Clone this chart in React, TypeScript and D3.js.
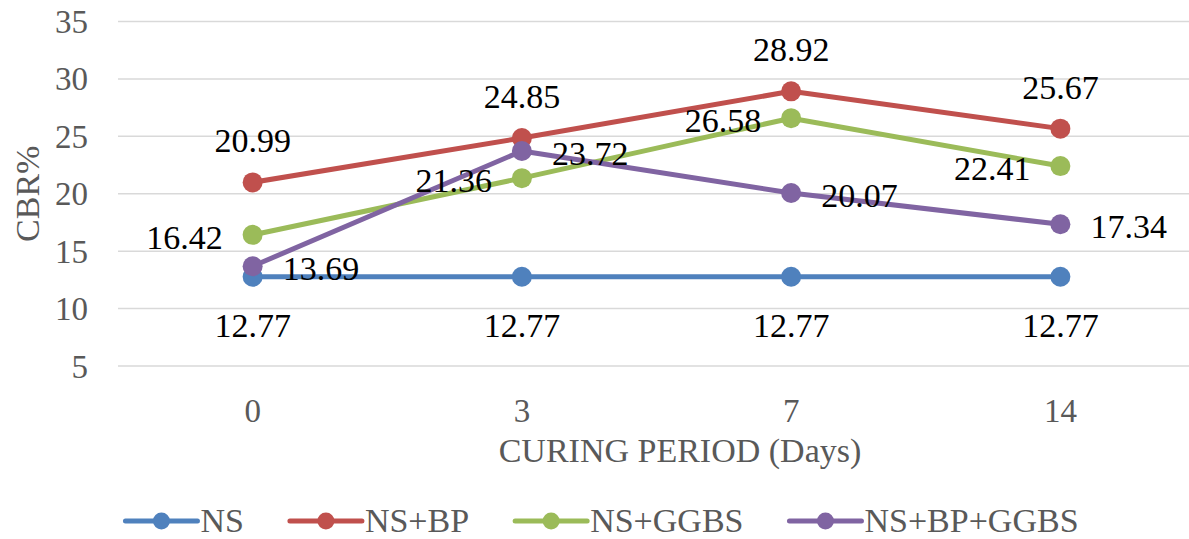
import React from "react";
import * as d3 from "d3";

const categories = ["0", "3", "7", "14"];
const seriesNames = ["NS", "NS+BP", "NS+GGBS", "NS+BP+GGBS"];
const nsValues = [12.77, 12.77, 12.77, 12.77];
const nsBpValues = [20.99, 24.85, 28.92, 25.67];
const nsGgbsValues = [16.42, 21.36, 26.58, 22.41];
const nsBpGgbsValues = [13.69, 23.72, 20.07, 17.34];
const yTicks = [5, 10, 15, 20, 25, 30, 35];
const colors = ["#4F81BD", "#C0504D", "#9BBB59", "#8064A2"];
const labelPos = ["below", "above", "left", "right"];

const W = 1189;
const H = 539;
const FONT = "Liberation Serif";

function measure(text: string, size: number): number {
  const c = document.createElement("canvas").getContext("2d");
  if (!c) return text.length * size * 0.55;
  c.font = `${size}px "Liberation Serif"`;
  return c.measureText(text).width;
}

export default function App() {
  const x = d3.scalePoint<string>().domain(categories).range([118, 1195]).padding(0.5);
  const y = d3.scaleLinear().domain([5, 35]).range([366, 21.5]);
  const allSeries = [nsValues, nsBpValues, nsGgbsValues, nsBpGgbsValues];
  const line = d3
    .line<number>()
    .x((_, i) => x(categories[i])!)
    .y((d) => y(d));

  // legend layout
  const symW = 72;
  const textGap = 3;
  const gap = 46;
  const widths = seriesNames.map((n) => symW + textGap + measure(n, 34));
  const total = d3.sum(widths) + gap * (widths.length - 1);
  const starts: number[] = [];
  let cur = 602 - total / 2;
  widths.forEach((w) => {
    starts.push(cur);
    cur += w + gap;
  });

  return (
    <svg width={W} height={H} style={{ position: "absolute", left: 0, top: 0, background: "#fff" }}>
      {yTicks.map((t) => (
        <line key={"g" + t} x1={118} x2={1195} y1={y(t)} y2={y(t)} stroke="#d9d9d9" strokeWidth={1.5} />
      ))}
      {yTicks.map((t) => (
        <text
          key={"yt" + t}
          x={88}
          y={y(t)}
          dy="0.35em"
          textAnchor="end"
          fontFamily={FONT}
          fontSize={33}
          fill="#595959"
        >
          {t}
        </text>
      ))}
      {categories.map((c) => (
        <text
          key={"xt" + c}
          x={x(c)}
          y={410}
          dy="0.35em"
          textAnchor="middle"
          fontFamily={FONT}
          fontSize={33}
          fill="#595959"
        >
          {c}
        </text>
      ))}
      <text x={680} y={450} dy="0.35em" textAnchor="middle" fontFamily={FONT} fontSize={34} fill="#595959">
        CURING PERIOD (Days)
      </text>
      <text
        transform={`translate(27, ${(y(5) + y(35)) / 2}) rotate(-90)`}
        dy="0.35em"
        textAnchor="middle"
        fontFamily={FONT}
        fontSize={34}
        fill="#595959"
      >
        CBR%
      </text>

      {allSeries.map((vals, si) => (
        <g key={"s" + si}>
          <path d={line(vals)!} fill="none" stroke={colors[si]} strokeWidth={5} strokeLinejoin="round" />
          {vals.map((v, i) => (
            <circle key={i} cx={x(categories[i])} cy={y(v)} r={10} fill={colors[si]} />
          ))}
        </g>
      ))}

      {allSeries.map((vals, si) => {
        const pos = labelPos[si];
        return (
          <g key={"l" + si}>
            {vals.map((v, i) => {
              const cx = x(categories[i])!;
              const cy = y(v);
              const lx = pos === "left" ? cx - 30 : pos === "right" ? cx + 30 : cx;
              const ly = pos === "above" ? cy - 42 : pos === "below" ? cy + 48 : cy + 2;
              const anchor = pos === "left" ? "end" : pos === "right" ? "start" : "middle";
              return (
                <text
                  key={i}
                  x={lx}
                  y={ly}
                  dy="0.35em"
                  textAnchor={anchor}
                  fontFamily={FONT}
                  fontSize={34}
                  fill="#000"
                >
                  {v.toFixed(2)}
                </text>
              );
            })}
          </g>
        );
      })}

      {seriesNames.map((n, i) => (
        <g key={"lg" + i} transform={`translate(${starts[i]}, 521)`}>
          <line x1={0} x2={symW} y1={0} y2={0} stroke={colors[i]} strokeWidth={5} strokeLinecap="round" />
          <circle cx={symW / 2} cy={0} r={8.5} fill={colors[i]} />
          <text x={symW + textGap} y={0} dy="0.33em" fontFamily={FONT} fontSize={34} fill="#595959">
            {n}
          </text>
        </g>
      ))}
    </svg>
  );
}
